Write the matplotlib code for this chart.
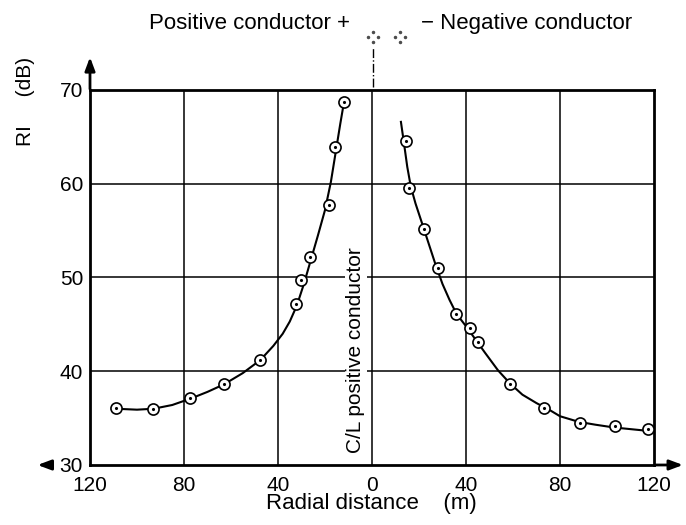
"""RI profile across a DC line: positive vs negative conductor side."""

import matplotlib.pyplot as plt
import numpy as np

plt.rcParams["font.family"] = ["Liberation Sans", "DejaVu Sans"]

# measured points (x < 0 : positive conductor side)
pos_x = [-109, -93, -77.4, -63, -47.5, -32.3, -30.2, -26.4, -18.3, -15.7, -11.9]
pos_ri = [36.1, 36.0, 37.1, 38.6, 41.2, 47.2, 49.7, 52.2, 57.7, 63.9, 68.7]
neg_x = [14.5, 15.8, 22, 28, 35.7, 41.7, 45, 58.7, 73.2, 88.5, 103.4, 117.5]
neg_ri = [64.6, 59.5, 55.2, 51.0, 46.1, 44.6, 43.1, 38.6, 36.1, 34.5, 34.2, 33.8]

# fitted curves
pos_curve_x = [-109, -100, -93, -85, -77, -70, -63, -55, -47.5, -42, -38, -35,
               -32, -29, -26, -23, -20, -17.5, -15.5, -13.5, -12]
pos_curve_ri = [36.0, 35.9, 36.0, 36.4, 37.1, 37.8, 38.6, 39.8, 41.2, 42.7, 44.0,
                45.3, 47.0, 49.3, 51.9, 54.5, 57.2, 60.2, 63.3, 66.4, 68.6]
neg_curve_x = [12.3, 13.5, 15, 16.5, 18.5, 21, 24, 27, 30, 33, 36, 40, 44, 48,
               53.6, 58.7, 64, 70, 76, 80, 88, 95, 103, 111, 119]
neg_curve_ri = [66.6, 64.5, 61.8, 59.7, 57.9, 56.0, 53.7, 51.4, 49.3, 47.6, 46.1,
                44.8, 43.4, 42.0, 40.1, 38.7, 37.5, 36.6, 35.8, 35.2, 34.6, 34.3,
                34.0, 33.8, 33.6]

x_ticks = [-120, -80, -40, 0, 40, 80, 120]
y_ticks = [30, 40, 50, 60, 70]

fig = plt.figure(figsize=(6.86, 5.25), dpi=100)
ax = fig.add_axes([0.1312, 0.1143, 0.8222, 0.7143])

ax.set_xlim(-120, 120)
ax.set_ylim(30, 70)
ax.set_xticks(x_ticks)
ax.set_xticklabels([str(abs(t)) for t in x_ticks])
ax.set_yticks(y_ticks)
ax.tick_params(length=0, labelsize=15)
ax.tick_params(axis="x", pad=8)
ax.tick_params(axis="y", pad=5)

for xv in x_ticks[1:-1]:
    ax.axvline(xv, color="black", lw=1.1, zorder=1)
for yv in y_ticks[1:-1]:
    ax.axhline(yv, color="black", lw=1.1, zorder=1)

for side in ("left", "right", "top", "bottom"):
    ax.spines[side].set_linewidth(2.0)

ax.plot(pos_curve_x, pos_curve_ri, color="black", lw=1.5, zorder=3)
ax.plot(neg_curve_x, neg_curve_ri, color="black", lw=1.5, zorder=3)
for xs, ys in ((pos_x, pos_ri), (neg_x, neg_ri)):
    ax.plot(xs, ys, "o", ms=8, mfc="white", mec="black", mew=1.2, zorder=4)
    ax.plot(xs, ys, ".", ms=2.5, color="black", zorder=5)

ax.text(-7.0, 42.3, "C/L positive conductor", rotation=90, ha="center",
        va="center", fontsize=15, zorder=2,
        bbox=dict(facecolor="white", edgecolor="none", pad=1))

# axis arrows
arrow = dict(arrowstyle="-|>,head_length=0.8,head_width=0.3", color="black", lw=2)
ax.annotate("", xy=(-120, 73.8), xytext=(-120, 69.8), arrowprops=arrow,
            annotation_clip=False)
ax.annotate("", xy=(133.5, 30), xytext=(119.5, 30), arrowprops=arrow,
            annotation_clip=False)
ax.annotate("", xy=(-143.5, 30), xytext=(-135, 30), arrowprops=arrow,
            annotation_clip=False)

# conductor legend above the plot
ax.plot([0.3, 0.3], [70.3, 74.5], color="black", lw=1, ls="-.", clip_on=False)
for cx in (0.4, 11.9):
    ax.plot([cx, cx - 2.1, cx + 2.1, cx], [76.15, 75.65, 75.65, 75.15], ".",
            ms=3, color="0.3", clip_on=False)
ax.text(-9.4, 77.1, "Positive conductor +", ha="right", va="center", fontsize=16)
ax.text(20.9, 77.1, "− Negative conductor", ha="left", va="center", fontsize=16)

fig.text(0.542, 0.040, "Radial distance    (m)", ha="center", va="center",
         fontsize=16)
fig.text(0.037, 0.807, "RI     (dB)", rotation=90, ha="center", va="center",
         fontsize=15)

fig.savefig("out.png", dpi=100)
